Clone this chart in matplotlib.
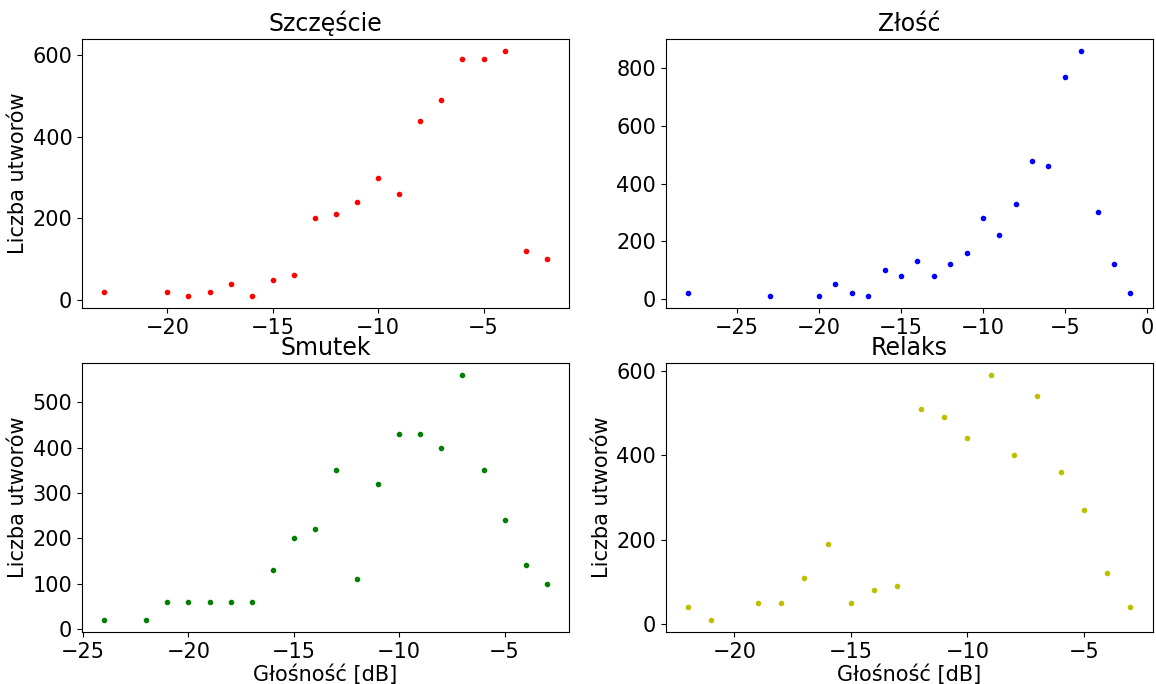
import numpy as np
import matplotlib
matplotlib.use("Agg")
import matplotlib.pyplot as plt

# Głośność [dB] vs liczba utworów, per emotion
szczescie_x = [-23, -20, -19, -18, -17, -16, -15, -14, -13, -12, -11, -10, -9, -8, -7, -6, -5, -4, -3, -2]
szczescie_y = [20, 20, 10, 20, 40, 10, 50, 60, 200, 210, 240, 300, 260, 440, 490, 590, 590, 610, 120, 100]

zlosc_x = [-28, -23, -20, -19, -18, -17, -16, -15, -14, -13, -12, -11, -10, -9, -8, -7, -6, -5, -4, -3, -2, -1]
zlosc_y = [20, 10, 10, 50, 20, 10, 100, 80, 130, 80, 120, 160, 280, 220, 330, 480, 460, 770, 860, 300, 120, 20]

smutek_x = [-24, -22, -21, -20, -19, -18, -17, -16, -15, -14, -13, -12, -11, -10, -9, -8, -7, -6, -5, -4, -3]
smutek_y = [20, 20, 60, 60, 60, 60, 60, 130, 200, 220, 350, 110, 320, 430, 430, 400, 560, 350, 240, 140, 100]

relaks_x = [-22, -21, -19, -18, -17, -16, -15, -14, -13, -12, -11, -10, -9, -8, -7, -6, -5, -4, -3]
relaks_y = [40, 10, 50, 50, 110, 190, 50, 80, 90, 510, 490, 440, 590, 400, 540, 360, 270, 120, 40]

panels = [
    ("Szczęście", szczescie_x, szczescie_y, "r"),
    ("Złość", zlosc_x, zlosc_y, "b"),
    ("Smutek", smutek_x, smutek_y, "g"),
    ("Relaks", relaks_x, relaks_y, "y"),
]

fig, axes = plt.subplots(2, 2, figsize=(11.56, 6.84), dpi=100)
fig.subplots_adjust(left=0.071, right=0.997, top=0.943, bottom=0.076,
                    wspace=0.199, hspace=0.204)

for ax, (title, x, y, c) in zip(axes.flat, panels):
    ax.plot(x, y, c + ".", ms=6)
    ax.set_title(title, fontsize=17)
    ax.tick_params(labelsize=15)

for ax in [axes[0, 0], axes[1, 0], axes[1, 1]]:
    ax.set_ylabel("Liczba utworów", fontsize=15, labelpad=3)
for ax in axes[1]:
    ax.set_xlabel("Głośność [dB]", fontsize=15, labelpad=2)

fig.savefig("out.png", dpi=100)
